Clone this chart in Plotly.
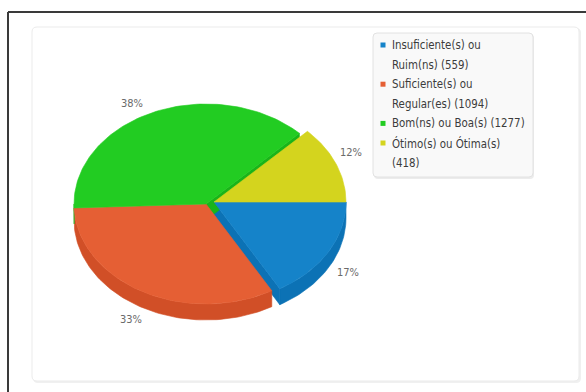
import textwrap
import numpy as np
import plotly.graph_objects as go

# ---- data -------------------------------------------------------------
categories = [
    "Insuficiente(s) ou Ruim(ns)",
    "Suficiente(s) ou Regular(es)",
    "Bom(ns) ou Boa(s)",
    "Ótimo(s) ou Ótima(s)",
]
counts = [559, 1094, 1277, 418]

# ---- styling ----------------------------------------------------------
top_colors = ["#1583c9", "#e55f34", "#22cc22", "#d4d41e"]
side_colors = ["#0c72b5", "#d14f27", "#1ab41a", "#bbbb16"]
pulled = [True, False, False, True]
label_nudge = [(0, 0), (0, 0), (-12, 0), (-6, -13)]

W, H = 586, 392
CX, CY = 206, 204          # pie centre
RX, RY = 132, 100          # tilted (elliptical) radii
DEPTH = 16                 # thickness of the 3D pie
PULL = (8, -2)             # offset of the pulled-out slices
FONT = "DejaVu Sans Condensed, Liberation Sans Narrow, Liberation Sans, Arial"

n = len(counts)
total = float(sum(counts))
fractions = [c / total for c in counts]
starts = np.concatenate([[0.0], np.cumsum(fractions)[:-1]]) * 360.0
ends = np.cumsum(fractions) * 360.0


def centre(i):
    dx, dy = PULL if pulled[i] else (0, 0)
    return CX + dx, CY + dy


def arc(cx, cy, a0, a1, dy=0.0):
    k = max(4, int(abs(a1 - a0) / 1.5) + 2)
    t = np.radians(np.linspace(a0, a1, k))
    return list(cx + RX * np.cos(t)), list(cy + dy + RY * np.sin(t))


fig = go.Figure()


def poly(xs, ys, color):
    fig.add_trace(go.Scatter(
        x=xs, y=ys, mode="lines", fill="toself", fillcolor=color,
        line=dict(color=color, width=0.6), hoverinfo="skip", showlegend=False,
    ))


# radial cut faces: only where a slice is separated from its neighbour
# and the face turns towards the viewer
for i in range(n):
    cx, cy = centre(i)
    prev_i, next_i = (i - 1) % n, (i + 1) % n
    faces = []
    if pulled[prev_i] != pulled[i] and np.cos(np.radians(starts[i])) < 0:
        faces.append(starts[i])
    if pulled[next_i] != pulled[i] and np.cos(np.radians(ends[i])) > 0:
        faces.append(ends[i])
    for a in faces:
        ex = cx + RX * np.cos(np.radians(a))
        ey = cy + RY * np.sin(np.radians(a))
        poly([cx, ex, ex, cx, cx], [cy, ey, ey + DEPTH, cy + DEPTH, cy], side_colors[i])

# outer walls on the front half of the pie
for i in range(n):
    cx, cy = centre(i)
    for lo, hi in ((0.0, 180.0), (360.0, 540.0)):
        a0, a1 = max(starts[i], lo), min(ends[i], hi)
        if a1 - a0 <= 0.01:
            continue
        tx, ty = arc(cx, cy, a0, a1)
        bx, by = arc(cx, cy, a1, a0, dy=DEPTH)
        poly(tx + bx + [tx[0]], ty + by + [ty[0]], side_colors[i])

# top faces
for i in range(n):
    cx, cy = centre(i)
    ax, ay = arc(cx, cy, starts[i], ends[i])
    poly([cx] + ax + [cx], [cy] + ay + [cy], top_colors[i])

# percentage labels
annotations = []
for i, f in enumerate(fractions):
    cx, cy = centre(i)
    mid = np.radians((starts[i] + ends[i]) / 2)
    lx = cx + 155 * np.cos(mid) + label_nudge[i][0]
    ly = cy + 10 + 121 * np.sin(mid) + label_nudge[i][1]
    annotations.append(dict(
        x=lx, y=ly, xref="x", yref="y", text=f"{round(f * 100)}%", showarrow=False,
        font=dict(family=FONT, size=11, color="#6a6a6a"), xanchor="center", yanchor="middle",
    ))

# legend: square markers + wrapped entries
LEG_X, LEG_Y, LEG_STEP = 383, 45, 19.6
row = 0
mx, my, mc = [], [], []
for i, (name, c) in enumerate(zip(categories, counts)):
    lines = textwrap.wrap(f"{name} ({c})", width=24)
    mx.append(LEG_X)
    my.append(LEG_Y + row * LEG_STEP)
    mc.append(top_colors[i])
    for line in lines:
        annotations.append(dict(
            x=LEG_X + 7, y=LEG_Y + row * LEG_STEP, xref="x", yref="y", text=line,
            showarrow=False, xanchor="left", yanchor="middle",
            font=dict(family=FONT, size=11.4, color="#3c3c3c"),
        ))
        row += 1

fig.add_trace(go.Scatter(
    x=mx, y=my, mode="markers", hoverinfo="skip", showlegend=False,
    marker=dict(symbol="square", size=5, color=mc, line=dict(width=0)),
))


def rounded_rect(x0, y0, x1, y1, r):
    return (f"M{x0 + r},{y0} L{x1 - r},{y0} Q{x1},{y0} {x1},{y0 + r} "
            f"L{x1},{y1 - r} Q{x1},{y1} {x1 - r},{y1} L{x0 + r},{y1} "
            f"Q{x0},{y1} {x0},{y1 - r} L{x0},{y0 + r} Q{x0},{y0} {x0 + r},{y0} Z")


shapes = [
    # outer frame
    dict(type="line", x0=8, y0=12, x1=W + 2, y1=12, line=dict(color="#3a3a3a", width=2)),
    dict(type="line", x0=8, y0=12, x1=8, y1=H + 2, line=dict(color="#3a3a3a", width=2)),
    # chart panel with soft shadow
    dict(type="path", path=rounded_rect(33, 28, 581, 383, 5), fillcolor="#f0f0f0",
         line=dict(width=0), layer="below"),
    dict(type="path", path=rounded_rect(32, 27, 579, 381, 5), fillcolor="#ffffff",
         line=dict(color="#ebebeb", width=1), layer="below"),
    # legend box
    dict(type="path", path=rounded_rect(374, 34, 534, 179, 4), fillcolor="#ececec",
         line=dict(width=0), layer="below"),
    dict(type="path", path=rounded_rect(373, 33, 533, 177, 4), fillcolor="#f9f9f9",
         line=dict(color="#e2e2e2", width=1), layer="below"),
]

fig.update_layout(
    width=W, height=H, margin=dict(l=0, r=0, t=0, b=0),
    paper_bgcolor="#ffffff", plot_bgcolor="rgba(0,0,0,0)",
    xaxis=dict(range=[0, W], visible=False, fixedrange=True),
    yaxis=dict(range=[H, 0], visible=False, fixedrange=True),
    shapes=shapes, annotations=annotations, showlegend=False,
)

fig.write_html("out.html")
